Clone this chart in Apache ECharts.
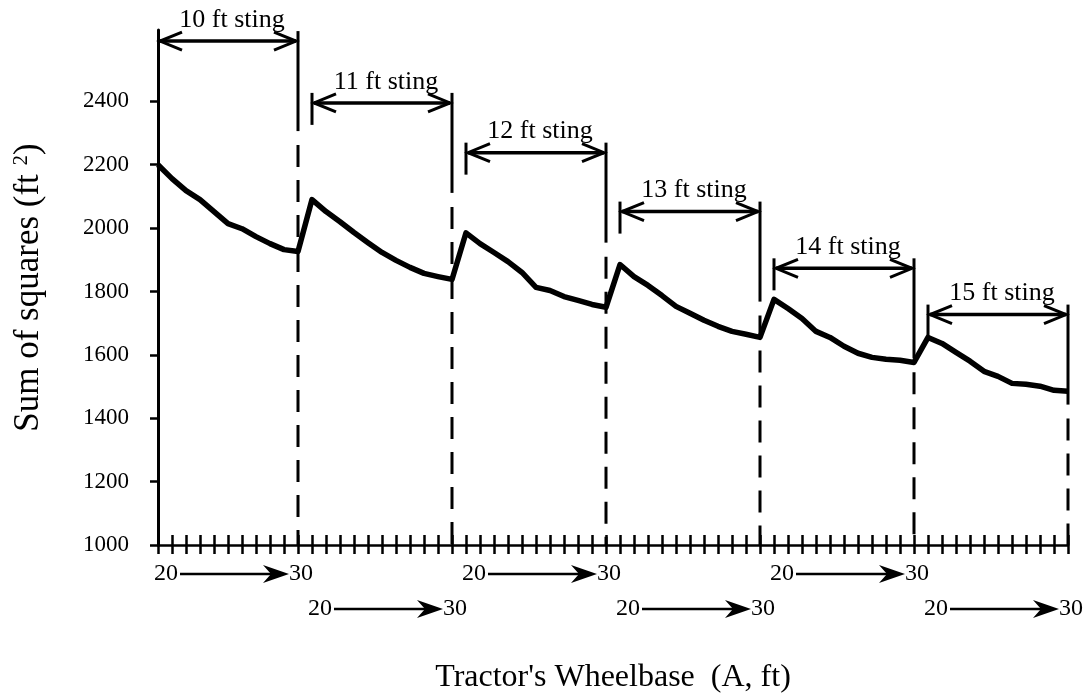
<!DOCTYPE html>
<html>
<head>
<meta charset="utf-8">
<title>Sum of squares vs tractor's wheelbase</title>
<script src="https://cdn.jsdelivr.net/npm/echarts@6/dist/echarts.min.js"></script>
<style>
  html, body { margin: 0; padding: 0; background: #fff; }
  #chart { width: 1088px; height: 697px; }
</style>
</head>
<body>
<div id="chart"></div>
<script>
// wheelbase A (ft) swept for every sting length
const wheelbase = [20, 21, 22, 23, 24, 25, 26, 27, 28, 29, 30];
const stingLabels = ["10 ft sting", "11 ft sting", "12 ft sting", "13 ft sting", "14 ft sting", "15 ft sting"];

// sum of squares (ft^2), one array per sting length
const sting10 = [2200, 2156, 2118, 2090, 2052, 2014, 1998, 1973, 1951, 1932, 1926];
const sting11 = [2090, 2052, 2020, 1986, 1954, 1923, 1898, 1876, 1857, 1847, 1838];
const sting12 = [1985, 1951, 1923, 1894, 1860, 1813, 1803, 1784, 1772, 1759, 1750];
const sting13 = [1885, 1847, 1819, 1787, 1753, 1731, 1709, 1690, 1674, 1665, 1655];
const sting14 = [1775, 1746, 1715, 1674, 1655, 1627, 1605, 1592, 1586, 1583, 1576];
const sting15 = [1655, 1636, 1608, 1580, 1548, 1532, 1510, 1507, 1501, 1488, 1485];

// height of each "n ft sting" arrow, in y units
const arrowLevels = [2590, 2395, 2238, 2052, 1873, 1727];
const yTicks = [1000, 1200, 1400, 1600, 1800, 2000, 2200, 2400];

const yMin = 1000;
const yMax = 2625;

const allStings = [sting10, sting11, sting12, sting13, sting14, sting15];
const categories = [];
const sums = [];
allStings.forEach((values, s) => {
  values.forEach((v, k) => {
    categories.push(stingLabels[s] + " / " + wheelbase[k]);
    sums.push(v);
  });
});

// one item per sting: first index, last index, arrow level
const stingSpans = allStings.map((values, s) => [
  s * wheelbase.length,
  s * wheelbase.length + values.length - 1,
  arrowLevels[s],
]);

const FONT = '"Liberation Serif", "Times New Roman", serif';

function renderSting(params, api) {
  const i = params.dataIndex;
  const level = api.value(2);
  const [x0, ya] = api.coord([api.value(0), level]);
  const [x1] = api.coord([api.value(1), level]);
  const yBase = api.coord([api.value(0), yMin])[1];
  const solid = { stroke: "#000", lineWidth: 3, fill: null };
  const children = [];

  if (i > 0) {
    children.push({ type: "line", shape: { x1: x0, y1: ya - 10, x2: x0, y2: ya + 22 }, style: solid });
  }
  children.push({ type: "line", shape: { x1: x1, y1: ya - 10, x2: x1, y2: ya + 90 }, style: solid });
  children.push({
    type: "line",
    shape: { x1: x1, y1: ya + 104, x2: x1, y2: yBase },
    style: { stroke: "#000", lineWidth: 3, lineDash: [22, 13] },
  });

  // double arrow
  children.push({ type: "line", shape: { x1: x0 + 2, y1: ya, x2: x1 - 2, y2: ya }, style: { stroke: "#000", lineWidth: 3.5 } });
  children.push({ type: "polyline", shape: { points: [[x0 + 24, ya - 9], [x0 + 2, ya], [x0 + 24, ya + 9]] }, style: solid });
  children.push({ type: "polyline", shape: { points: [[x1 - 24, ya - 9], [x1 - 2, ya], [x1 - 24, ya + 9]] }, style: solid });
  children.push({
    type: "text",
    style: {
      text: stingLabels[i], x: (x0 + x1) / 2 + 4, y: ya - 8,
      align: "center", verticalAlign: "bottom", font: "26px " + FONT, fill: "#000",
    },
  });

  // "20 ---> 30" under the axis, alternating rows
  const yr = yBase + (i % 2 === 0 ? 29 : 64);
  children.push({
    type: "text",
    style: { text: String(wheelbase[0]), x: x0 + 20, y: yr, align: "right", verticalAlign: "middle", font: "24px " + FONT, fill: "#000" },
  });
  children.push({ type: "line", shape: { x1: x0 + 22, y1: yr, x2: x1 - 20, y2: yr }, style: { stroke: "#000", lineWidth: 2.5 } });
  children.push({
    type: "polygon",
    shape: { points: [[x1 - 9, yr], [x1 - 35, yr - 9], [x1 - 27, yr], [x1 - 35, yr + 9]] },
    style: { fill: "#000" },
  });
  children.push({
    type: "text",
    style: { text: String(wheelbase[wheelbase.length - 1]), x: x1 - 9, y: yr, align: "left", verticalAlign: "middle", font: "24px " + FONT, fill: "#000" },
  });

  return { type: "group", children };
}

const chart = echarts.init(document.getElementById("chart"));

chart.setOption({
  backgroundColor: "#fff",
  animation: false,
  grid: { left: 158, right: 20, top: 30, bottom: 152, containLabel: false, outerBoundsMode: "none" },
  xAxis: [
    {
      type: "category",
      data: categories,
      boundaryGap: false,
      position: "bottom",
      name: "Tractor's Wheelbase  (A, ft)",
      nameLocation: "middle",
      nameGap: 117,
      nameTextStyle: { fontFamily: FONT, fontSize: 32, color: "#000" },
      axisLine: { show: true, lineStyle: { color: "#000", width: 2.5 } },
      axisTick: { show: true, interval: 0, inside: false, length: 9, lineStyle: { color: "#000", width: 2.5 } },
      axisLabel: { show: false },
      splitLine: { show: false },
    },
    {
      // second copy only for the upper half of the crossing ticks
      type: "category",
      data: categories,
      boundaryGap: false,
      position: "bottom",
      axisLine: { show: false },
      axisTick: { show: true, interval: 0, inside: true, length: 10, lineStyle: { color: "#000", width: 2.5 } },
      axisLabel: { show: false },
      splitLine: { show: false },
    },
  ],
  yAxis: {
    type: "value",
    min: yMin,
    max: yMax,
    interval: 200,
    name: "Sum of squares (ft {sup|2})",
    nameLocation: "middle",
    nameGap: 112,
    nameTextStyle: {
      fontFamily: FONT,
      fontSize: 35,
      color: "#000",
      rich: { sup: { fontFamily: FONT, fontSize: 21, verticalAlign: "top", color: "#000" } },
    },
    axisLine: { show: true, lineStyle: { color: "#000", width: 3 } },
    axisTick: { show: true, length: 8, customValues: yTicks, lineStyle: { color: "#000", width: 2.5 } },
    axisLabel: {
      customValues: yTicks,
      margin: 29,
      fontFamily: FONT,
      fontSize: 23,
      color: "#000",
      formatter: (v) => String(v),
    },
    splitLine: { show: false },
  },
  series: [
    {
      type: "custom",
      xAxisIndex: 0,
      yAxisIndex: 0,
      clip: false,
      silent: true,
      z: 1,
      encode: { x: [0, 1], y: 2 },
      data: stingSpans,
      renderItem: renderSting,
    },
    {
      type: "line",
      xAxisIndex: 0,
      yAxisIndex: 0,
      data: sums,
      showSymbol: false,
      symbol: "none",
      z: 3,
      lineStyle: { color: "#000", width: 5.5, join: "round" },
    },
  ],
});
</script>
</body>
</html>
